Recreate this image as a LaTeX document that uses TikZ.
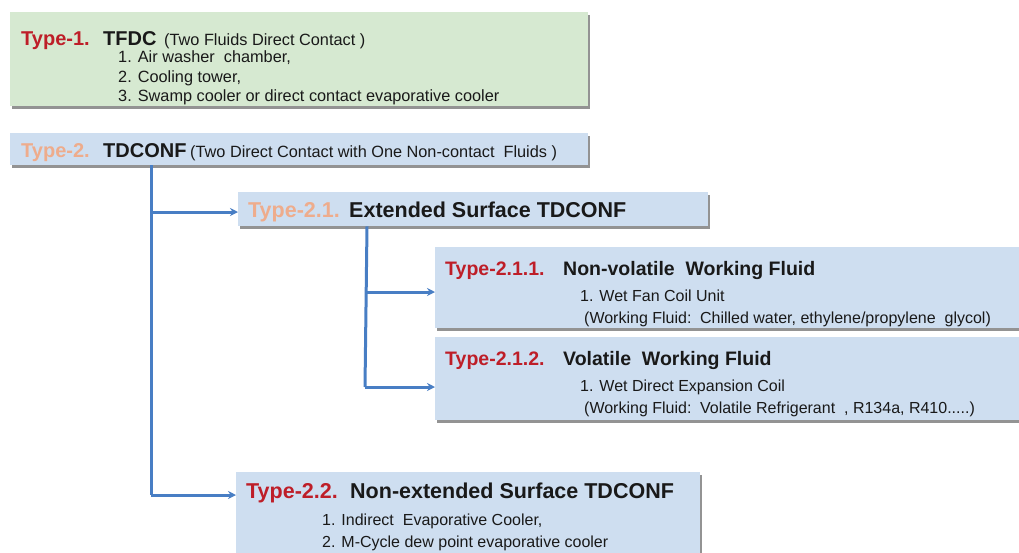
\documentclass[tikz,border=0pt]{standalone}
\usepackage{fontspec}
\setmainfont{Liberation Sans}
\usetikzlibrary{shadows,arrows.meta,calc}
\definecolor{typered}{RGB}{190,30,40}
\definecolor{typesalmon}{RGB}{238,172,140}
\definecolor{greenfill}{RGB}{214,233,209}
\definecolor{bluefill}{RGB}{206,222,240}
\definecolor{connblue}{RGB}{72,126,196}
\definecolor{txt}{RGB}{25,25,25}
\tikzset{
  boxbase/.style={draw=none, rectangle, inner sep=0pt, anchor=north west,
     drop shadow={shadow xshift=2.2pt, shadow yshift=-2.6pt, fill=black!50, opacity=0.85}},
  greenbox/.style={boxbase, fill=greenfill},
  bluebox/.style={boxbase, fill=bluefill},
  lbl/.style={anchor=base west, inner sep=0pt, text=txt},
  ttlA/.style={lbl, font=\fontsize{20}{22}\selectfont\bfseries},
  ttlB/.style={lbl, font=\fontsize{21.5}{24}\selectfont\bfseries},
  ttlC/.style={lbl, font=\fontsize{19.5}{22}\selectfont\bfseries},
  sub/.style={lbl, font=\fontsize{16.3}{19}\selectfont},
  subsm/.style={lbl, font=\fontsize{16}{19}\selectfont},
  conn/.style={draw=connblue, line width=3pt, -{Stealth[length=8pt,width=8pt]}},
  connline/.style={draw=connblue, line width=3pt}
}
\begin{document}
\begin{tikzpicture}[x=1pt,y=-1pt]
\useasboundingbox (0,0) rectangle (1019,552);
\clip (0,0) rectangle (1019,552);
% boxes
\node[greenbox, minimum width=578pt, minimum height=94pt] (b1) at (10,12) {};
\node[bluebox, minimum width=578pt, minimum height=32pt] (b2) at (10,133) {};
\node[bluebox, minimum width=470pt, minimum height=34pt] (b21) at (238,192) {};
\node[bluebox, minimum width=600pt, minimum height=81pt] (b211) at (435,247) {};
\node[bluebox, minimum width=600pt, minimum height=83pt] (b212) at (435,337) {};
\node[bluebox, minimum width=464pt, minimum height=100pt] (b22) at (236,472) {};
% Type-1 texts
\node[ttlA, text=typered] (t1a) at (21,45) {Type-1.};
\node[ttlA] (t1b) at (103,45) {TFDC};
\node[sub] (t1c) at (164,45) {(Two Fluids Direct Contact )};
\node[sub] (t1i1) at (118,62) {1. Air washer \ chamber,};
\node[sub] (t1i2) at (118,82) {2. Cooling tower,};
\node[sub] (t1i3) at (118,101) {3. Swamp cooler or direct contact evaporative cooler};
% Type-2
\node[ttlA, text=typesalmon] (t2a) at (21,157) {Type-2.};
\node[ttlA] (t2b) at (103,157) {TDCONF};
\node[sub] (t2c) at (190,157) {(Two Direct Contact with One Non-contact \ Fluids )};
% Type-2.1
\node[ttlB, text=typesalmon] (t21a) at (248,217) {Type-2.1.};
\node[ttlB] (t21b) at (349,217) {Extended Surface TDCONF};
% Type-2.1.1
\node[ttlC, text=typered] (t211a) at (445,275) {Type-2.1.1.};
\node[ttlC] (t211b) at (563,275) {Non-volatile \ Working Fluid};
\node[subsm] (t211i1) at (580,301) {1. Wet Fan Coil Unit};
\node[subsm] (t211i2) at (584,323) {(Working Fluid: \,Chilled water, ethylene/propylene \ glycol)};
% Type-2.1.2
\node[ttlC, text=typered] (t212a) at (445,365) {Type-2.1.2.};
\node[ttlC] (t212b) at (563,365) {Volatile \ Working Fluid};
\node[subsm] (t212i1) at (580,391) {1. Wet Direct Expansion Coil};
\node[subsm] (t212i2) at (584,413) {(Working Fluid: \,Volatile Refrigerant \ , R134a, R410.....)};
% Type-2.2
\node[ttlB, text=typered] (t22a) at (246,498) {Type-2.2.};
\node[ttlB] (t22b) at (350,498) {Non-extended Surface TDCONF};
\node[subsm] (t22i1) at (322,525) {1. Indirect \ Evaporative Cooler,};
\node[subsm] (t22i2) at (322,547) {2. M-Cycle dew point evaporative cooler};
% connectors
\coordinate (v1top) at ($(b2.south west)+(141,0)$);
\coordinate (v1a) at ($(b21.north west)+(-87,20)$);
\coordinate (v1b) at ($(b22.north west)+(-85,23)$);
\draw[connline] (v1top) -- (v1b);
\draw[conn] (v1a) -- (v1a -| b21.west);
\draw[conn] (v1b) -- (v1b -| b22.west);
\coordinate (v2top) at ($(b21.south west)+(129,0)$);
\coordinate (v2a) at ($(b211.north west)+(-70,45)$);
\coordinate (v2b) at ($(b212.north west)+(-70,50)$);
\draw[connline] (v2top) -- (v2b);
\draw[conn] (v2a) -- (v2a -| b211.west);
\draw[conn] (v2b) -- (v2b -| b212.west);
\end{tikzpicture}
\end{document}
